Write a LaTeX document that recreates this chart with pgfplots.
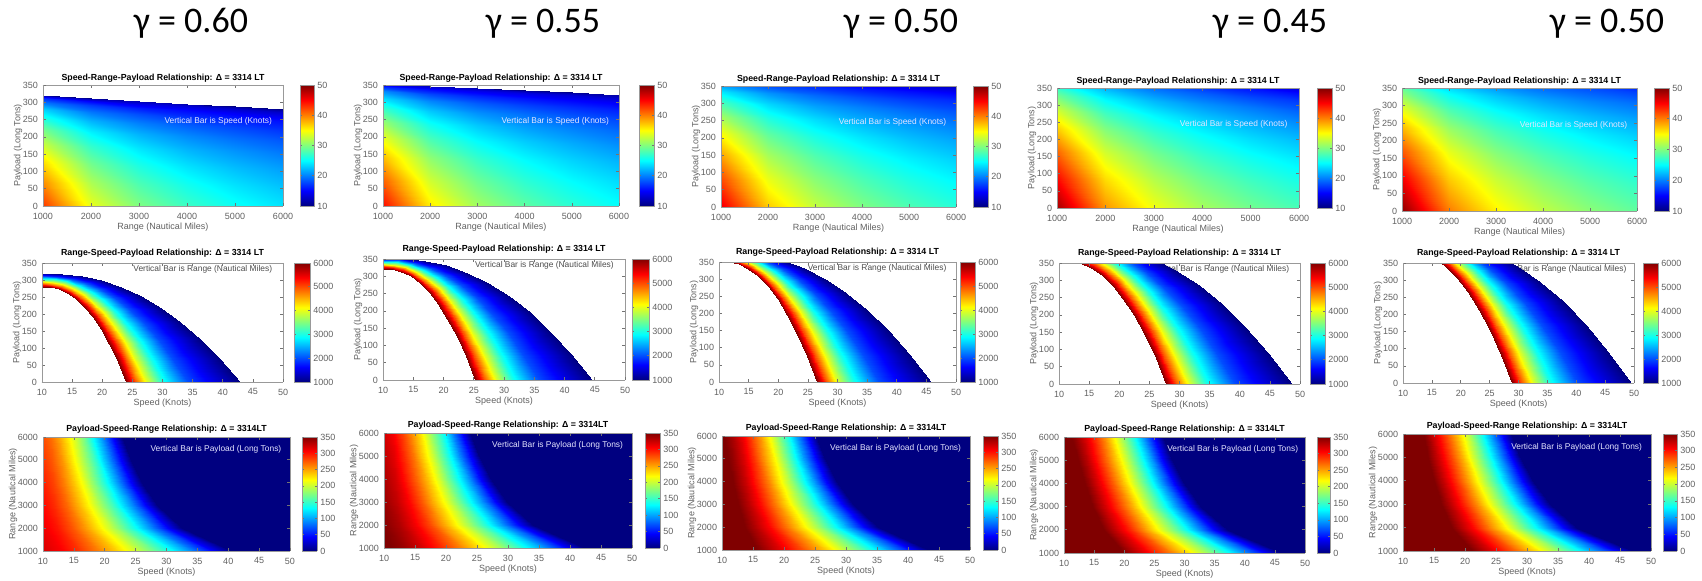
\documentclass[border=0pt]{standalone}
\usepackage{fontspec}
\setmainfont{Liberation Sans}
\newfontfamily\carlito{Carlito}
\usepackage{pgfplots}
\usepackage{pgfplotstable}
\pgfplotsset{compat=1.18}

% Speed V (knots) and payload P (long tons) along each constant-range curve, read off the
% Range-Speed-Payload charts; one V/P pair of columns for each of the five gamma columns
\pgfplotstableread{
R VA PA VB PB VC PC VD PD VE PE
1000 10 320 10 355 10 382 10 419 10 431
1000 13.28 318.2 13.46 353.0 13.57 379.9 13.86 416.6 13.95 428.6
1000 16.56 311.4 16.92 345.5 17.14 371.8 17.72 407.8 17.90 419.5
1000 19.84 298.7 20.38 331.4 20.71 356.6 21.58 391.1 21.85 402.3
1000 23.12 279.3 23.84 309.8 24.28 333.4 25.44 365.7 25.80 376.2
1000 26.40 252.7 27.30 280.4 27.85 301.7 29.30 330.9 29.75 340.4
1000 29.68 218.6 30.76 242.5 31.42 261.0 33.16 286.3 33.70 294.5
1000 32.96 176.6 34.22 195.9 34.99 210.8 37.02 231.2 37.65 237.8
1000 36.24 126.3 37.68 140.1 38.56 150.8 40.88 165.4 41.60 170.1
1000 39.52 67.6 41.14 74.9 42.13 80.6 44.74 88.5 45.55 91.0
1000 42.80 0 44.60 0 45.70 0 48.60 0 49.50 0
2000 10 312 10 348.4 10 376.2 10 407.2 10 422.4
2000 12.42 310.2 12.58 346.4 12.70 374.1 12.92 404.9 13.01 420.0
2000 14.84 303.7 15.15 339.1 15.40 366.1 15.83 396.3 16.03 411.1
2000 17.27 291.2 17.73 325.2 18.10 351.1 18.75 380.1 19.04 394.3
2000 19.69 272.3 20.30 304.1 20.80 328.3 21.66 355.4 22.06 368.7
2000 22.11 246.4 22.88 275.2 23.51 297.1 24.58 321.6 25.07 333.6
2000 24.53 213.2 25.46 238.0 26.21 257.0 27.49 278.2 28.08 288.6
2000 26.95 172.2 28.03 192.2 28.91 207.6 30.41 224.7 31.10 233.1
2000 29.38 123.1 30.61 137.5 31.61 148.5 33.32 160.7 34.11 166.7
2000 31.80 65.9 33.18 73.5 34.31 79.4 36.24 86.0 37.13 89.2
2000 34.22 0 35.76 0 37.01 0 39.15 0 40.14 0
3000 10 304 10 341.8 10 370.4 10 395.4 10 413.8
3000 12.00 302.3 12.14 339.9 12.27 368.3 12.45 393.2 12.55 411.5
3000 14.00 295.9 14.29 332.7 14.54 360.5 14.90 384.8 15.10 402.7
3000 16.01 283.7 16.43 319.0 16.82 345.7 17.35 369.1 17.65 386.2
3000 18.01 265.3 18.57 298.3 19.09 323.3 19.80 345.1 20.20 361.2
3000 20.01 240.1 20.72 270.0 21.36 292.5 22.25 312.3 22.76 326.8
3000 22.01 207.7 22.86 233.5 23.63 253.1 24.70 270.1 25.31 282.7
3000 24.01 167.7 25.00 188.6 25.90 204.4 27.15 218.2 27.86 228.3
3000 26.02 120.0 27.14 134.9 28.18 146.2 29.60 156.1 30.41 163.3
3000 28.02 64.2 29.29 72.2 30.45 78.2 32.05 83.5 32.96 87.4
3000 30.02 0 31.43 0 32.72 0 34.50 0 35.51 0
4000 10 296 10 335.2 10 364.6 10 383.6 10 405.2
4000 11.74 294.3 11.87 333.3 12.00 362.5 12.15 381.4 12.26 402.9
4000 13.47 288.1 13.74 326.2 14.00 354.8 14.31 373.3 14.51 394.4
4000 15.21 276.3 15.60 312.9 15.99 340.3 16.46 358.0 16.77 378.2
4000 16.94 258.3 17.47 292.6 17.99 318.2 18.62 334.8 19.02 353.7
4000 18.68 233.8 19.34 264.7 19.99 288.0 20.77 303.0 21.28 320.0
4000 20.42 202.2 21.21 229.0 21.99 249.1 22.92 262.1 23.53 276.8
4000 22.15 163.3 23.08 185.0 23.99 201.2 25.08 211.7 25.79 223.6
4000 23.89 116.8 24.94 132.3 25.98 143.9 27.23 151.4 28.04 159.9
4000 25.62 62.5 26.81 70.8 27.98 77.0 29.39 81.0 30.30 85.5
4000 27.36 0 28.68 0 29.98 0 31.54 0 32.55 0
5000 10 288 10 328.6 10 358.8 10 371.8 10 396.6
5000 11.55 286.4 11.67 326.8 11.80 356.8 11.94 369.7 12.04 394.4
5000 13.09 280.3 13.34 319.8 13.60 349.2 13.88 361.9 14.09 386.0
5000 14.64 268.8 15.01 306.7 15.40 334.9 15.83 347.0 16.13 370.2
5000 16.18 251.4 16.68 286.8 17.20 313.2 17.77 324.5 18.17 346.2
5000 17.73 227.5 18.36 259.5 19.01 283.4 19.71 293.6 20.22 313.2
5000 19.28 196.8 20.03 224.5 20.81 245.1 21.65 254.0 22.26 271.0
5000 20.82 158.9 21.70 181.3 22.61 198.0 23.59 205.2 24.30 218.8
5000 22.37 113.7 23.37 129.7 24.41 141.6 25.54 146.7 26.34 156.5
5000 23.91 60.8 25.04 69.4 26.21 75.7 27.48 78.5 28.39 83.7
5000 25.46 0 26.71 0 28.01 0 29.42 0 30.43 0
6000 10 280 10 322 10 353 10 360 10 388
6000 11.40 278.4 11.52 320.2 11.65 351.0 11.78 358.0 11.88 385.8
6000 12.80 272.5 13.04 313.4 13.30 343.6 13.56 350.4 13.76 377.6
6000 14.20 261.3 14.56 300.5 14.95 329.5 15.34 336.0 15.64 362.2
6000 15.60 244.4 16.08 281.0 16.60 308.1 17.12 314.2 17.52 338.6
6000 17.00 221.1 17.60 254.3 18.25 278.8 18.90 284.3 19.40 306.4
6000 18.40 191.3 19.12 220.0 19.90 241.2 20.68 246.0 21.28 265.1
6000 19.80 154.5 20.64 177.7 21.55 194.8 22.46 198.6 23.16 214.1
6000 21.20 110.5 22.16 127.1 23.20 139.3 24.24 142.1 25.04 153.1
6000 22.60 59.1 23.68 68.0 24.85 74.5 26.02 76.0 26.92 81.9
6000 24.00 0 25.20 0 26.50 0 27.80 0 28.80 0
}\curves

% the same (payload 0 from the zero-payload speed to 50 knots)
\pgfplotstableread{
R VA PA VB PB VC PC VD PD VE PE
1000 10 320 10 355 10 382 10 419 10 431
1000 13.07 307.3 13.24 340.9 13.34 366.8 13.62 402.3 13.70 413.8
1000 16.13 286.4 16.47 317.7 16.68 341.9 17.23 375.0 17.41 385.7
1000 19.20 260.7 19.71 289.2 20.03 311.2 20.85 341.3 21.11 351.1
1000 22.26 231.3 22.95 256.6 23.37 276.1 24.47 302.8 24.81 311.5
1000 25.33 198.7 26.19 220.5 26.71 237.2 28.09 260.2 28.52 267.7
1000 28.40 163.5 29.42 181.4 30.05 195.1 31.70 214.0 32.22 220.2
1000 31.46 125.8 32.66 139.5 33.39 150.2 35.32 164.7 35.92 169.4
1000 34.53 85.9 35.90 95.3 36.74 102.5 38.94 112.4 39.62 115.6
1000 37.59 43.9 39.13 48.7 40.08 52.4 42.55 57.5 43.33 59.1
1000 40.66 0 42.37 0 43.42 0 46.17 0 47.03 0
1000 50 0 50 0 50 0 50 0 50 0
2000 10 312 10 348.4 10 376.2 10 407.2 10 422.4
2000 12.25 299.6 12.40 334.5 12.52 361.2 12.72 391.0 12.81 405.6
2000 14.50 279.2 14.79 311.8 15.03 336.7 15.44 364.4 15.63 378.0
2000 16.75 254.2 17.19 283.8 17.55 306.5 18.16 331.7 18.44 344.1
2000 19.00 225.5 19.59 251.8 20.06 271.9 20.88 294.3 21.25 305.3
2000 21.26 193.8 21.99 216.4 22.58 233.6 23.60 252.9 24.07 262.3
2000 23.51 159.4 24.38 178.0 25.10 192.2 26.31 208.0 26.88 215.8
2000 25.76 122.6 26.78 136.9 27.61 147.9 29.03 160.1 29.69 166.0
2000 28.01 83.7 29.18 93.5 30.13 100.9 31.75 109.3 32.50 113.3
2000 30.26 42.8 31.57 47.8 32.64 51.6 34.47 55.8 35.32 57.9
2000 32.51 0 33.97 0 35.16 0 37.19 0 38.13 0
2000 50 0 50 0 50 0 50 0 50 0
3000 10 304 10 341.8 10 370.4 10 395.4 10 413.8
3000 11.85 291.9 11.99 328.2 12.11 355.7 12.28 379.7 12.37 397.3
3000 13.70 272.1 13.97 305.9 14.22 331.5 14.56 353.9 14.75 370.3
3000 15.56 247.7 15.96 278.5 16.32 301.7 16.83 322.1 17.12 337.1
3000 17.41 219.7 17.94 247.0 18.43 267.7 19.11 285.8 19.49 299.1
3000 19.26 188.8 19.93 212.3 20.54 230.0 21.39 245.6 21.87 257.0
3000 21.11 155.3 21.92 174.6 22.65 189.2 23.67 202.0 24.24 211.4
3000 22.96 119.5 23.90 134.4 24.76 145.6 25.95 155.4 26.61 162.7
3000 24.82 81.6 25.89 91.7 26.86 99.4 28.22 106.1 28.98 111.0
3000 26.67 41.7 27.87 46.9 28.97 50.8 30.50 54.2 31.36 56.7
3000 28.52 0 29.86 0 31.08 0 32.78 0 33.73 0
3000 50 0 50 0 50 0 50 0 50 0
4000 10 296 10 335.2 10 364.6 10 383.6 10 405.2
4000 11.60 284.2 11.73 321.9 11.85 350.1 12.00 368.3 12.09 389.1
4000 13.20 264.9 13.45 300.0 13.70 326.3 13.99 343.3 14.18 362.6
4000 14.80 241.1 15.18 273.1 15.54 297.0 15.99 312.5 16.28 330.1
4000 16.40 213.9 16.90 242.3 17.39 263.5 17.98 277.2 18.37 292.9
4000 17.99 183.8 18.63 208.2 19.24 226.4 19.98 238.2 20.46 251.7
4000 19.59 151.2 20.35 171.2 21.09 186.3 21.98 196.0 22.55 207.0
4000 21.19 116.4 22.08 131.8 22.94 143.3 23.97 150.8 24.64 159.3
4000 22.79 79.4 23.80 89.9 24.78 97.8 25.97 102.9 26.74 108.7
4000 24.39 40.6 25.53 46.0 26.63 50.0 27.96 52.6 28.83 55.6
4000 25.99 0 27.25 0 28.48 0 29.96 0 30.92 0
4000 50 0 50 0 50 0 50 0 50 0
5000 10 288 10 328.6 10 358.8 10 371.8 10 396.6
5000 11.42 276.5 11.54 315.5 11.66 344.5 11.80 357.0 11.89 380.8
5000 12.84 257.7 13.07 294.1 13.32 321.1 13.59 332.7 13.78 354.9
5000 14.26 234.6 14.61 267.7 14.98 292.3 15.39 302.9 15.67 323.1
5000 15.68 208.1 16.15 237.5 16.64 259.3 17.18 268.7 17.56 286.6
5000 17.10 178.9 17.69 204.1 18.31 222.8 18.98 230.9 19.46 246.3
5000 18.51 147.1 19.22 167.9 19.97 183.3 20.77 189.9 21.35 202.6
5000 19.93 113.2 20.76 129.2 21.63 141.0 22.57 146.1 23.24 155.9
5000 21.35 77.3 22.30 88.2 23.29 96.3 24.36 99.8 25.13 106.4
5000 22.77 39.5 23.83 45.1 24.95 49.2 26.16 51.0 27.02 54.4
5000 24.19 0 25.37 0 26.61 0 27.95 0 28.91 0
5000 50 0 50 0 50 0 50 0 50 0
6000 10 280 10 322 10 353 10 360 10 388
6000 11.28 268.9 11.39 309.2 11.52 338.9 11.64 345.7 11.74 372.6
6000 12.56 250.6 12.79 288.2 13.04 315.9 13.28 322.2 13.47 347.2
6000 13.84 228.1 14.18 262.3 14.55 287.6 14.92 293.3 15.21 316.1
6000 15.12 202.4 15.58 232.7 16.07 255.1 16.56 260.2 16.94 280.4
6000 16.40 173.9 16.97 200.0 17.59 219.2 18.21 223.6 18.68 241.0
6000 17.68 143.0 18.36 164.5 19.11 180.3 19.85 183.9 20.42 198.2
6000 18.96 110.1 19.76 126.6 20.63 138.8 21.49 141.5 22.15 152.5
6000 20.24 75.1 21.15 86.4 22.14 94.7 23.13 96.6 23.89 104.1
6000 21.52 38.4 22.55 44.2 23.66 48.4 24.77 49.4 25.62 53.2
6000 22.80 0 23.94 0 25.18 0 26.41 0 27.36 0
6000 50 0 50 0 50 0 50 0 50 0
}\payload

\pgfplotstableread{
x y
0 0
1 0
0 350
1 350
}\cbdata

\newcommand\fs{\fontsize{4.5}{5.4}\selectfont}
\newcommand\ft{\fontsize{4.4}{5.3}\selectfont\bfseries}
\newcommand\fa{\fontsize{4.2}{5}\selectfont}

% jet over payload 0..350, held at dark red above 350
\pgfplotsset{colormap={jetcap}{rgb255(0pt)=(0,0,128) rgb255(43.75pt)=(0,0,255)
  rgb255(131.25pt)=(0,255,255) rgb255(218.75pt)=(255,255,0)
  rgb255(306.25pt)=(255,0,0) rgb255(350pt)=(128,0,0) rgb255(550pt)=(128,0,0)}}

\pgfplotsset{
 /pgf/number format/1000 sep={},
 /pgf/number format/assume math mode=true,
 panel/.style={
   scale only axis, view={0}{90}, axis on top, colormap/jet,
   anchor=north west,
   tick align=inside, major tick length=1.6pt,
   every tick/.style={black!55, line width=0.3pt},
   axis line style={black!40, line width=0.35pt},
   tick label style={font=\fs, text=black!62},
   every x tick label/.style={anchor=north, inner sep=0pt, yshift=-3.2pt},
   every y tick label/.style={anchor=east, inner sep=0pt, xshift=-2.3pt},
   every axis title/.style={font=\ft, anchor=center, inner sep=0pt},
   ztick=\empty,
   scaled ticks=false,
 },
 cbar/.style={colorbar, colorbar style={scale only axis, width=#1,
    tick align=inside, major tick length=1.2pt,
    every tick/.style={black!55, line width=0.3pt},
    axis line style={black!40, line width=0.35pt},
    every y tick label/.style={font=\fs, text=black!62, anchor=west, inner sep=0pt, xshift=1.5pt},
    scaled ticks=false}},
 cbax/.style={scale only axis, anchor=north west, view={0}{90}, axis on top, colormap/jet,
    xmin=0, xmax=1, ymin=0, ymax=350, point meta min=0, point meta max=350,
    xtick=\empty, ztick=\empty, ytick={0,50,...,350},
    yticklabel pos=right,
    tick align=inside, major tick length=1.2pt,
    every tick/.style={black!55, line width=0.3pt},
    axis line style={black!40, line width=0.35pt},
    every y tick label/.style={font=\fs, text=black!62, anchor=west, inner sep=0pt, xshift=1.5pt},
    scaled ticks=false},
 rowone/.style={xmin=1000,xmax=6000,ymin=0,ymax=350,
   xtick={1000,2000,...,6000}, ytick={0,50,...,350},
   point meta min=10, point meta max=50,
   colorbar style={ytick={10,20,...,50}},
   title={Speed-Range-Payload Relationship: Δ = 3314 LT},
   every axis title/.append style={at={([yshift=3.6pt]axis description cs:0.5,1)}},
   xlabel={Range (Nautical Miles)}, ylabel={Payload (Long Tons)},
   every axis x label/.style={font=\fs, text=black!62, at={([yshift=-10.8pt]axis description cs:0.5,0)}, anchor=center},
   every axis y label/.style={font=\fs, text=black!62, at={([xshift=-12.5pt]axis description cs:0,0.5)}, anchor=center, rotate=90},
 },
 rowtwo/.style={xmin=10,xmax=50,ymin=0,ymax=350,
   xtick={10,15,...,50}, ytick={0,50,...,350},
   point meta min=1000, point meta max=6000,
   colorbar style={ytick={1000,2000,...,6000}},
   title={Range-Speed-Payload Relationship: Δ = 3314 LT},
   every axis title/.append style={at={([yshift=4.8pt]axis description cs:0.5,1)}},
   xlabel={Speed (Knots)}, ylabel={Payload (Long Tons)},
   every axis x label/.style={font=\fs, text=black!62, at={([yshift=-10.8pt]axis description cs:0.5,0)}, anchor=center},
   every axis y label/.style={font=\fs, text=black!62, at={([xshift=-12.5pt]axis description cs:0,0.5)}, anchor=center, rotate=90},
 },
 rowthree/.style={xmin=10,xmax=50,ymin=1000,ymax=6000,
   xtick={10,15,...,50}, ytick={1000,2000,...,6000},
   colormap name=jetcap, point meta min=0, point meta max=550,
   title={Payload-Speed-Range Relationship: Δ = 3314LT},
   every axis title/.append style={at={([yshift=4pt]axis description cs:0.5,1)}},
   xlabel={Speed (Knots)}, ylabel={Range (Nautical Miles)},
   every axis x label/.style={font=\fs, text=black!62, at={([yshift=-10.5pt]axis description cs:0.5,0)}, anchor=center},
   every axis y label/.style={font=\fs, text=black!62, at={([xshift=-15pt]axis description cs:0,0.5)}, anchor=center, rotate=90},
 },
}

\newcommand\plotone[1]{\addplot3[surf, shader=interp, mesh/rows=6, mesh/cols=11, point meta=explicit] table[x=R, y=P#1, z=V#1, meta=V#1]{\curves};
  \node[font=\fa, text=white!90!blue] at (axis description cs:0.73,0.70) {Vertical Bar is Speed (Knots)};}
% in the Range-Speed-Payload charts the note lies beneath the coloured band
\newcommand\plottwo[1]{\node[font=\fa, text=black!70] at (axis description cs:0.667,0.945) {Vertical Bar is Range (Nautical Miles)};
  \addplot3[surf, shader=interp, mesh/rows=6, mesh/cols=11, point meta=explicit] table[x=V#1, y=P#1, z=R, meta=R]{\curves};}
\newcommand\plotthree[1]{\addplot3[surf, shader=interp, mesh/rows=6, mesh/cols=12, point meta=explicit] table[x=V#1, y=R, z=P#1, meta=P#1]{\payload};
  \node[font=\fa, text=white!90!blue] at (axis description cs:0.70,0.89) {Vertical Bar is Payload (Long Tons)};}
\newcommand\cbthree{\addplot3[surf, shader=interp, mesh/rows=2, mesh/cols=2, point meta=explicit]
  table[x=x, y=y, z=y, meta=y]{\cbdata};}

\begin{document}
\begin{tikzpicture}
\useasboundingbox (0,0) rectangle (851pt,290.5pt);

% ---- row 1
\begin{axis}[panel, rowone, at={(21.5pt,248pt)}, width=120pt, height=60.5pt, cbar=7pt, colorbar shift/.style={xshift=3.5pt}]
\plotone{A}
\end{axis}
\begin{axis}[panel, rowone, at={(191.5pt,248pt)}, width=118pt, height=60.5pt, cbar=7.5pt, colorbar shift/.style={xshift=5pt}]
\plotone{B}
\end{axis}
\begin{axis}[panel, rowone, at={(360.5pt,247.5pt)}, width=117.5pt, height=60.5pt, cbar=7.5pt, colorbar shift/.style={xshift=3.5pt}]
\plotone{C}
\end{axis}
\begin{axis}[panel, rowone, at={(528.5pt,246.5pt)}, width=121pt, height=60pt, cbar=7.5pt, colorbar shift/.style={xshift=4pt}]
\plotone{D}
\end{axis}
\begin{axis}[panel, rowone, at={(701pt,246.5pt)}, width=117.5pt, height=61.5pt, cbar=7.5pt, colorbar shift/.style={xshift=3.5pt}]
\plotone{E}
\end{axis}

% ---- row 2
\begin{axis}[panel, rowtwo, at={(21pt,159pt)}, width=120.5pt, height=59.5pt, cbar=8pt, colorbar shift/.style={xshift=3pt}]
\plottwo{A}
\end{axis}
\begin{axis}[panel, rowtwo, at={(191.5pt,161pt)}, width=121pt, height=60.5pt, cbar=8.5pt, colorbar shift/.style={xshift=1pt}]
\plottwo{B}
\end{axis}
\begin{axis}[panel, rowtwo, at={(359.5pt,159.5pt)}, width=118.5pt, height=60pt, cbar=7.5pt, colorbar shift/.style={xshift=-0.5pt}]
\plottwo{C}
\end{axis}
\begin{axis}[panel, rowtwo, at={(529.5pt,159pt)}, width=120.5pt, height=60.5pt, cbar=7.5pt, colorbar shift/.style={xshift=2.5pt}]
\plottwo{D}
\end{axis}
\begin{axis}[panel, rowtwo, at={(701.5pt,159pt)}, width=115.5pt, height=60pt, cbar=7.5pt, colorbar shift/.style={xshift=2pt}]
\plottwo{E}
\end{axis}

% ---- row 3
\begin{axis}[panel, rowthree, at={(21.5pt,72pt)}, width=123.5pt, height=57pt]
\plotthree{A}
\end{axis}
\begin{axis}[cbax, at={(151pt,72pt)}, width=7.5pt, height=57pt]
\cbthree
\end{axis}
\begin{axis}[panel, rowthree, at={(192pt,74pt)}, width=124pt, height=57.5pt]
\plotthree{B}
\end{axis}
\begin{axis}[cbax, at={(322.5pt,74pt)}, width=7.5pt, height=57.5pt]
\cbthree
\end{axis}
\begin{axis}[panel, rowthree, at={(361pt,72.5pt)}, width=124pt, height=57pt]
\plotthree{C}
\end{axis}
\begin{axis}[cbax, at={(491.5pt,72.5pt)}, width=7.5pt, height=57pt]
\cbthree
\end{axis}
\begin{axis}[panel, rowthree, at={(532pt,72pt)}, width=120.5pt, height=58pt]
\plotthree{D}
\end{axis}
\begin{axis}[cbax, at={(658.5pt,72pt)}, width=6.5pt, height=58pt]
\cbthree
\end{axis}
\begin{axis}[panel, rowthree, at={(701.5pt,73.5pt)}, width=124pt, height=58.5pt]
\plotthree{E}
\end{axis}
\begin{axis}[cbax, at={(831.5pt,73.5pt)}, width=7pt, height=58.5pt]
\cbthree
\end{axis}

% ---- column headings
\node[font=\carlito\fontsize{18}{20}\selectfont, anchor=base] at (95.5pt,274.2pt) {γ = 0.60};
\node[font=\carlito\fontsize{18}{20}\selectfont, anchor=base] at (271.5pt,274.2pt) {γ = 0.55};
\node[font=\carlito\fontsize{18}{20}\selectfont, anchor=base] at (450.5pt,274.2pt) {γ = 0.50};
\node[font=\carlito\fontsize{18}{20}\selectfont, anchor=base] at (635pt,274.2pt) {γ = 0.45};
\node[font=\carlito\fontsize{18}{20}\selectfont, anchor=base] at (803.5pt,274.2pt) {γ = 0.50};
\end{tikzpicture}
\end{document}
